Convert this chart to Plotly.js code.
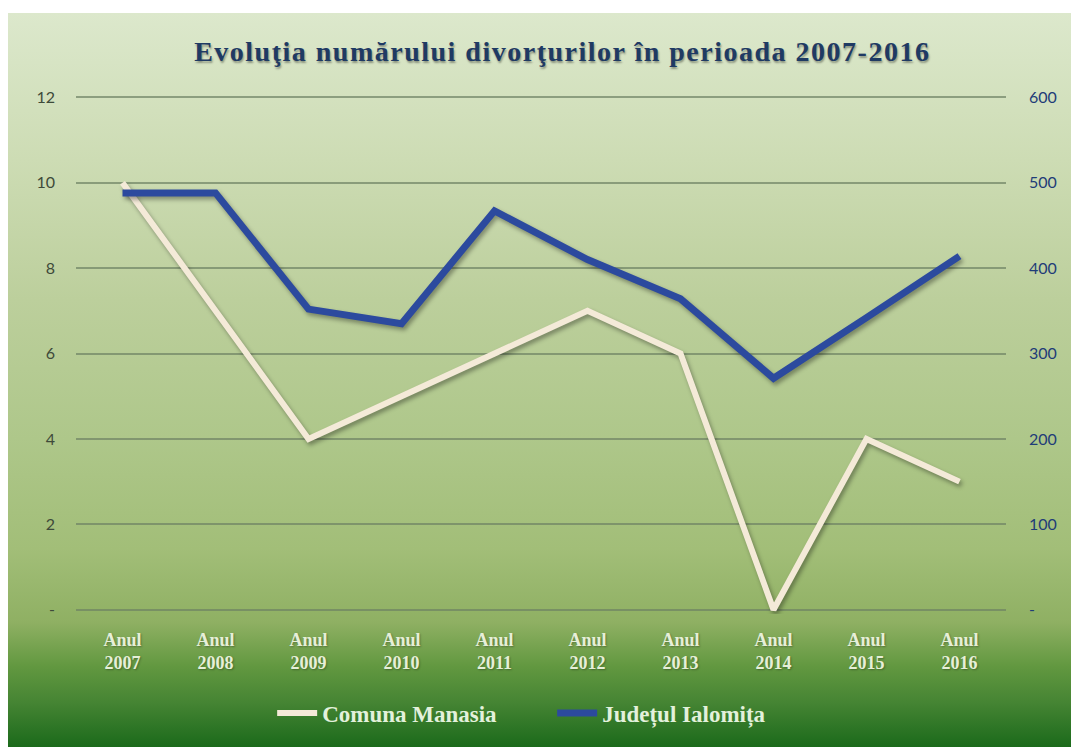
<!DOCTYPE html>
<html>
<head>
<meta charset="utf-8">
<script src="https://cdn.plot.ly/plotly-3.0.1.min.js"></script>
<style>
  html, body { margin: 0; padding: 0; background: #ffffff; }
  #wrap { position: relative; width: 1071px; height: 747px; background: #ffffff; overflow: hidden; }
  #bg { position: absolute; left: 8px; top: 13px; width: 1063px; height: 734px;
        background: linear-gradient(to bottom, #dce8cc 0%, #cddcb4 20%, #bccf9c 39%, #aec78a 58%, #a2be78 73%, #8fb063 83%, #629840 89%, #458433 94%, #1b6a1b 100%); }
  #chart { position: absolute; left: 0; top: 0; width: 1071px; height: 747px; }
  .scatterlayer .js-line { filter: drop-shadow(2px 3px 2px rgba(0,0,0,0.35)); }
  .gtitle { letter-spacing: 1.5px; }
</style>
</head>
<body>
<div id="wrap"><div id="bg"></div><div id="chart"></div></div>
<script>
const years = ["2007","2008","2009","2010","2011","2012","2013","2014","2015","2016"];
const categoryLabels = years.map(y => "Anul<br>" + y);
const manasia = [10, 7, 4, 5, 6, 7, 6, 0, 4, 3];
const ialomita = [488, 488, 352, 335, 467, 410, 364, 271, 342, 414];
const leftTicks = [0, 2, 4, 6, 8, 10, 12];
const leftTickText = ["-", "2", "4", "6", "8", "10", "12"];
const rightTicks = [0, 100, 200, 300, 400, 500, 600];
const rightTickText = ["-", "100", "200", "300", "400", "500", "600"];

const traces = [
  { x: categoryLabels, y: manasia, name: "Comuna Manasia", type: "scatter", mode: "lines",
    line: { color: "#f4ead8", width: 6 }, yaxis: "y" },
  { x: categoryLabels, y: ialomita, name: "Județul Ialomița", type: "scatter", mode: "lines",
    line: { color: "#2c4a9e", width: 7 }, yaxis: "y2" }
];

const layout = {
  width: 1071, height: 747,
  paper_bgcolor: "rgba(0,0,0,0)", plot_bgcolor: "rgba(0,0,0,0)",
  margin: { l: 75.5, r: 64.5, t: 92.7, b: 129.7 },
  title: { text: "Evoluţia numărului divorţurilor în perioada 2007-2016",
    x: 0.525, xanchor: "center", y: 0.932, yanchor: "middle",
    font: { family: "Liberation Serif", size: 28, weight: 700, color: "#1f3a63",
            shadow: "1px 2px 2px rgba(0,0,0,0.35)" } },
  xaxis: { type: "category", range: [-0.5, 9.5], showgrid: false, zeroline: false, showline: false,
    ticks: "", ticklabelstandoff: 13,
    tickfont: { family: "Liberation Serif", size: 18, weight: 700, color: "#e6efd8",
                shadow: "1px 1px 2px rgba(0,0,0,0.3)" } },
  yaxis: { range: [-0.1, 12.1], tickvals: leftTicks, ticktext: leftTickText,
    showgrid: true, gridcolor: "rgba(110,130,100,0.7)", gridwidth: 2, zeroline: false, showline: false,
    ticks: "", ticklabelstandoff: 20,
    tickfont: { family: "Lato", size: 16, color: "#3e4a3a" } },
  yaxis2: { range: [-5, 605], tickvals: rightTicks, ticktext: rightTickText, overlaying: "y", side: "right",
    showgrid: false, zeroline: false, showline: false, ticks: "", ticklabelstandoff: 22,
    tickfont: { family: "Lato", size: 16, color: "#1f3c78" } },
  showlegend: true,
  legend: { orientation: "h", x: 0.512, xanchor: "center", y: -0.19, yanchor: "middle",
    bgcolor: "rgba(0,0,0,0)", itemwidth: 40, entrywidth: 225,
    font: { family: "Liberation Serif", size: 23, weight: 700, color: "#e3f1dc" } }
};

Plotly.newPlot("chart", traces, layout, { displayModeBar: false, staticPlot: true });
</script>
</body>
</html>
